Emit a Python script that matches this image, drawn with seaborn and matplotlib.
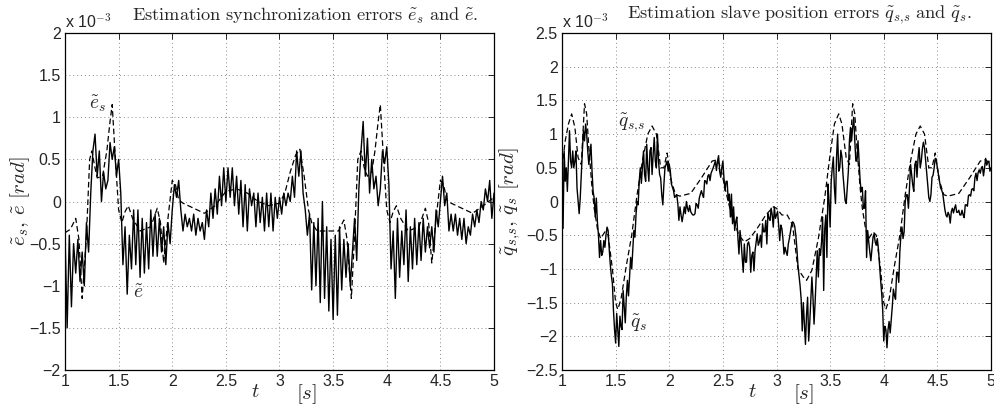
"""Two MATLAB-style estimation error plots (synchronization and slave position)."""

import matplotlib
matplotlib.use('Agg')
import matplotlib.pyplot as plt
import numpy as np
import seaborn as sns

# --- left panel: synchronization errors, units of 1e-3 rad ---
# solid trace e~, sampled every 0.02 s from t=1 to t=5 (5 values per row = 0.1 s)
E_VALS = [
    -0.37, -1.5, -0.4, -1.25, -0.5,
    -0.85, -0.45, -0.95, -0.6, -1.0,
    -0.25, -0.6, 0.1, 0.6, 0.8,
    0.3, 0.6, 0.0, 0.35, 0.15,
    0.25, 0.7, 0.5, 0.65, 0.3,
    0.5, 0.1, -0.75, -0.3, -1.1,
    -0.4, -0.8, -0.1, -0.75, -0.1,
    -0.9, -0.2, -0.85, -0.25, -0.8,
    -0.1, -0.65, -0.15, -0.65, -0.2,
    -0.6, -0.3, -0.75, -0.25, -0.5,
    -0.1, 0.2, 0.05, 0.25, -0.1,
    -0.35, -0.15, -0.3, -0.2, -0.35,
    -0.15, -0.4, -0.2, -0.35, -0.25,
    -0.45, -0.1, -0.3, 0.1, -0.2,
    0.15, -0.15, 0.3, -0.05, 0.4,
    0.0, 0.4, 0.05, 0.4, -0.05,
    0.3, -0.15, 0.25, -0.3, 0.2,
    -0.35, 0.15, -0.05, 0.1, -0.3,
    0.1, -0.25, 0.05, -0.35, 0.1,
    -0.3, 0.1, -0.35, 0.05, -0.2,
    0.05, -0.15, 0.1, -0.05, 0.1,
    0.0, 0.3, 0.05, 0.6, 0.3,
    0.6, 0.1, -0.1, -0.4, -0.15,
    -1.05, -0.25, -1.0, -0.2, -1.2,
    0.0, -1.15, -0.3, -1.3, -0.45,
    -1.4, -0.4, -1.35, -0.3, -1.05,
    -0.45, -0.9, -0.5, -1.0, -0.6,
    -0.2, -0.7, 0.15, 0.6, 0.95,
    0.3, 0.75, 0.1, 0.5, 0.15,
    0.3, -0.05, 0.15, 0.6, 0.45,
    0.65, 0.2, -0.8, -0.35, -1.15,
    -0.2, -0.9, -0.35, -0.75, -0.1,
    -0.95, -0.3, -0.8, -0.2, -0.75,
    -0.25, -0.7, -0.2, -0.6, -0.3,
    -0.55, -0.3, -0.6, -0.1, -0.3,
    0.0, 0.3, -0.05, 0.1, -0.35,
    -0.15, -0.35, -0.15, -0.4, -0.2,
    -0.45, -0.2, -0.5, -0.3, -0.4,
    -0.15, -0.3, -0.1, -0.25, 0.0,
    -0.1, 0.15, 0.0, 0.25, -0.2,
    0.1,
]

# dashed trace e~_s (smooth), read at its turning points
ES_T = [
    1.00, 1.05, 1.10, 1.13, 1.16, 1.20, 1.23, 1.25, 1.28, 1.30,
    1.35, 1.39, 1.42, 1.44, 1.47, 1.50, 1.53, 1.56, 1.59, 1.63,
    1.70, 1.80, 1.86, 1.89, 1.92, 1.96, 2.00, 2.03, 2.06, 2.10,
    2.20, 2.30, 2.40, 2.50, 2.60, 2.70, 2.80, 2.90, 3.00, 3.05,
    3.10, 3.15, 3.19, 3.23, 3.27, 3.30, 3.35, 3.45, 3.55, 3.60,
    3.63, 3.67, 3.70, 3.73, 3.76, 3.79, 3.82, 3.86, 3.89, 3.92,
    3.94, 3.97, 4.00, 4.03, 4.06, 4.09, 4.13, 4.20, 4.30, 4.36,
    4.39, 4.42, 4.46, 4.50, 4.53, 4.56, 4.60, 4.70, 4.80, 4.90,
    5.00,
]
ES_V = [
    -0.37, -0.33, -0.2, -0.45, -1.15, -0.4, 0.5, 0.6, 0.4, 0.28,
    0.3, 0.6, 0.95, 1.15, 0.5, -0.1, -0.25, -0.12, -0.05, -0.2,
    -0.35, -0.3, -0.08, -0.25, -0.73, -0.2, 0.25, 0.2, 0.02, -0.02,
    -0.08, -0.14, -0.05, 0.12, 0.15, 0.1, 0.0, -0.05, -0.02, 0.1,
    0.35, 0.55, 0.62, 0.3, -0.1, -0.25, -0.35, -0.35, -0.35, -0.22,
    -0.45, -1.15, -0.4, 0.5, 0.6, 0.4, 0.3, 0.35, 0.6, 0.95,
    1.15, 0.5, -0.1, -0.25, -0.12, -0.05, -0.2, -0.35, -0.3, -0.08,
    -0.25, -0.73, -0.2, 0.25, 0.2, 0.02, -0.02, -0.08, -0.14, -0.05,
    0.05,
]

# --- right panel: slave position errors, units of 1e-3 rad ---
# solid trace q~_s, sampled every 0.01 s from t=1 to t=5
QS_VALS = [
    0.0, -0.4, 0.75, 0.3, 0.5, 0.15, 0.6, 1.05, 0.6, 0.5,
    0.75, 0.5, 0.6, 0.75, 0.2, 0.0, -0.18, 0.05, 0.4, 0.75,
    1.05, 0.9, 1.15, 1.0, 0.75, 0.55, 0.7, 0.85, 0.45, 0.15,
    0.05, -0.23, 0.05, -0.3, -0.5, -0.83, -0.58, -0.8, -0.75, -0.58,
    -0.68, -0.5, -0.38, -0.43, -0.7, -0.93, -1.1, -1.22, -1.62, -1.9,
    -2.1, -1.66, -1.9, -2.15, -1.7, -1.85, -1.9, -1.32, -1.55, -1.8,
    -1.4, -1.17, -1.4, -1.1, -0.83, -1.0, -0.7, -0.43, -0.53, -0.2,
    0.0, -0.05, 0.3, 0.5, 0.27, 0.5, 0.75, 0.4, 0.3, 0.85,
    0.5, 0.3, 0.75, 0.8, 0.4, 0.7, 0.95, 0.6, 0.5, 1.0,
    0.6, 0.4, 0.35, 0.1, -0.05, 0.25, 0.5, 0.55, 0.6, 0.45,
    0.55, 0.45, 0.26, 0.21, 0.16, 0.06, 0.08, 0.1, -0.03, -0.28,
    -0.08, -0.2, -0.3, -0.2, -0.08, -0.18, 0.0, -0.1, -0.15, -0.06,
    -0.15, -0.18, -0.2, -0.2, -0.18, -0.03, -0.05, -0.1, 0.05, 0.11,
    0.16, 0.1, 0.06, 0.31, 0.3, 0.26, 0.38, 0.4, 0.31, 0.42,
    0.46, 0.5, 0.55, 0.6, 0.46, 0.6, 0.68, 0.45, 0.36, 0.5,
    0.6, 0.35, 0.16, 0.3, 0.3, 0.01, 0.11, -0.23, 0.11, -0.33,
    -0.08, -0.43, -0.3, -0.23, -0.53, -0.78, -0.43, -0.6, -0.83, -1.05,
    -0.63, -0.9, -0.9, -0.63, -0.6, -0.68, -1.05, -0.8, -0.75, -1.03,
    -0.73, -0.6, -0.48, -0.65, -0.6, -0.5, -0.68, -0.33, -0.45, -0.45,
    -0.28, -0.63, -0.18, -0.25, -0.28, -0.1, -0.2, -0.38, -0.08, -0.25,
    -0.2, -0.15, -0.35, -0.58, -0.35, -0.4, -0.55, -0.78, -0.68, -0.75,
    -0.8, -0.63, -0.55, -0.45, -0.35, -0.3, -0.32, -0.37, -0.5, -0.7,
    -0.95, -1.1, -1.25, -1.45, -1.92, -1.5, -1.8, -2.12, -1.68, -1.42,
    -2.07, -1.8, -1.45, -1.12, -1.42, -1.82, -1.5, -1.1, -0.73, -1.12,
    -0.7, -0.8, -0.6, -0.23, -1.32, -0.4, -0.2, -0.83, 0.26, 0.0,
    -0.38, 0.3, 0.5, 0.66, 0.2, -0.03, 0.66, 1.0, 0.45, 0.5,
    0.76, 0.66, 0.4, 0.2, 0.01, -0.03, 0.2, 0.45, 0.9, 1.1,
    0.9, 1.1, 1.25, 0.9, 0.6, 0.6, 0.9, 0.6, 0.3, 0.15,
    0.21, -0.1, -0.1, 0.16, -0.83, -0.43, -0.6, -0.75, -0.88, -0.7,
    -0.53, -0.48, -0.6, -0.65, -0.55, -0.7, -0.93, -1.15, -1.35, -1.6,
    -2.07, -1.85, -1.9, -2.17, -1.9, -1.78, -1.95, -1.75, -1.55, -1.3,
    -1.4, -1.45, -1.05, -1.05, -1.2, -0.75, -0.5, -0.38, -0.55, -0.45,
    0.0, 0.1, 0.1, -0.1, 0.2, 0.55, 0.4, 0.25, 0.15, 0.55,
    0.6, 0.36, 0.65, 0.8, 0.5, 0.6, 0.78, 0.88, 0.8, 0.62,
    0.45, 0.25, 0.06, 0.0, 0.1, 0.36, 0.39, 0.5, 0.64, 0.6,
    0.5, 0.4, 0.3, 0.2, 0.17, 0.12, 0.0, -0.12, -0.2, -0.23,
    -0.16, -0.2, -0.32, -0.15, -0.1, -0.17, -0.1, -0.05, -0.16, -0.16,
    -0.13, -0.2, -0.2, -0.13, -0.2, -0.24, -0.05, -0.05, -0.07, 0.09,
    0.1, 0.08, 0.18, 0.19, 0.16, 0.35, 0.42, 0.31, 0.43, 0.47,
    0.42, 0.5, 0.52, 0.38, 0.5, 0.64, 0.54, 0.58, 0.6, 0.45,
    0.5,
]

# dashed trace q~_{s,s}
QSS_T = [
    1.00, 1.03, 1.06, 1.09, 1.12, 1.15, 1.18, 1.21, 1.23, 1.25,
    1.28, 1.30, 1.33, 1.36, 1.40, 1.43, 1.47, 1.50, 1.52, 1.55,
    1.60, 1.65, 1.70, 1.75, 1.80, 1.84, 1.88, 1.92, 1.95, 1.98,
    2.02, 2.06, 2.10, 2.20, 2.30, 2.40, 2.45, 2.48, 2.52, 2.58,
    2.65, 2.70, 2.75, 2.82, 2.90, 2.97, 3.00, 3.05, 3.10, 3.15,
    3.20, 3.25, 3.28, 3.33, 3.39, 3.45, 3.50, 3.54, 3.58, 3.61,
    3.65, 3.68, 3.71, 3.73, 3.75, 3.78, 3.80, 3.83, 3.86, 3.90,
    3.93, 3.97, 4.00, 4.02, 4.05, 4.10, 4.15, 4.20, 4.25, 4.30,
    4.34, 4.38, 4.42, 4.45, 4.48, 4.52, 4.56, 4.60, 4.70, 4.80,
    4.90, 4.95, 5.00,
]
QSS_V = [
    0.5, 0.9, 1.15, 1.3, 1.1, 0.65, 0.55, 1.45, 1.3, 0.8,
    0.2, -0.1, -0.4, -0.55, -0.45, -0.5, -1.0, -1.5, -1.6, -1.45,
    -0.95, -0.5, 0.1, 0.6, 1.0, 1.12, 1.0, 0.5, 0.5, 0.72,
    0.3, 0.1, 0.08, 0.12, 0.35, 0.6, 0.62, 0.5, 0.2, -0.2,
    -0.5, -0.6, -0.55, -0.4, -0.2, -0.08, -0.1, -0.2, -0.2, -0.35,
    -1.0, -1.12, -1.17, -1.02, -0.55, 0.06, 0.7, 1.15, 1.3, 1.15,
    0.65, 0.55, 1.45, 1.3, 0.8, 0.2, -0.1, -0.4, -0.55, -0.45,
    -0.5, -1.0, -1.5, -1.6, -1.45, -0.95, -0.5, 0.1, 0.6, 1.0,
    1.12, 1.0, 0.5, 0.5, 0.72, 0.3, 0.1, 0.08, 0.12, 0.35,
    0.6, 0.62, 0.55,
]

TITLES = [
    r'$\mathrm{Estimation\ synchronization\ errors\ }\tilde{e}_s\mathrm{\ and\ }\tilde{e}.$',
    r'$\mathrm{Estimation\ slave\ position\ errors\ }\tilde{q}_{s{,}s}\mathrm{\ and\ }\tilde{q}_s.$',
]
YLABELS = [r'$\tilde{e}_s,\, \tilde{e}\ [rad]$', r'$\tilde{q}_{s{,}s},\, \tilde{q}_s\ [rad]$']


def style_axes(ax, ylim, yticks):
    ax.set_xlim(1, 5)
    ax.set_ylim(*ylim)
    ax.set_xticks([1, 1.5, 2, 2.5, 3, 3.5, 4, 4.5, 5])
    ax.set_xticklabels(['1', '1.5', '2', '2.5', '3', '3.5', '4', '4.5', '5'])
    ax.set_yticks(yticks)
    ax.set_yticklabels([f'{v:g}'.replace('-', '\u2212') for v in yticks])
    ax.grid(True, linestyle=(0, (1, 3)), color='#8a8a8a', linewidth=0.7)
    ax.tick_params(direction='in', length=4, width=0.7, top=True, right=True,
                   labelsize=11.5, pad=3)
    for sp in ax.spines.values():
        sp.set_visible(True)
        sp.set_color('black')
        sp.set_linewidth(0.9)
    ax.set_xlabel('')
    ax.set_ylabel('')
    ax.text(0.0, 1.008, r'x 10$^{-3}$', transform=ax.transAxes,
            ha='left', va='bottom', fontsize=11.5)


sns.set_style('white')
plt.rcParams['font.family'] = ['Liberation Sans', 'DejaVu Sans']
plt.rcParams['mathtext.fontset'] = 'cm'

fig = plt.figure(figsize=(9.95, 4.07), dpi=100)
ax1 = fig.add_axes([65 / 995, 37 / 407, 429 / 995, 337 / 407])
ax2 = fig.add_axes([562 / 995, 37 / 407, 429 / 995, 337 / 407])

dash = (0, (4.5, 2.5))

t_grid = np.linspace(1, 5, len(E_VALS))
sns.lineplot(x=t_grid, y=E_VALS, ax=ax1, color='black', linewidth=1.0,
             estimator=None, sort=False)
sns.lineplot(x=ES_T, y=ES_V, ax=ax1, color='black', linewidth=0.9,
             estimator=None, sort=False, linestyle=dash)

t_grid2 = np.linspace(1, 5, len(QS_VALS))
sns.lineplot(x=t_grid2, y=QS_VALS, ax=ax2, color='black', linewidth=1.0,
             estimator=None, sort=False)
sns.lineplot(x=QSS_T, y=QSS_V, ax=ax2, color='black', linewidth=0.9,
             estimator=None, sort=False, linestyle=dash)

style_axes(ax1, (-2, 2), [-2, -1.5, -1, -0.5, 0, 0.5, 1, 1.5, 2])
style_axes(ax2, (-2.5, 2.5), [-2.5, -2, -1.5, -1, -0.5, 0, 0.5, 1, 1.5, 2, 2.5])

for ax, title, ylab, tx, lx in zip((ax1, ax2), TITLES, YLABELS, (0.56, 0.553), (-0.078, -0.092)):
    ax.text(tx, 1.02, title, transform=ax.transAxes, ha='center', va='bottom',
            fontsize=13.2)
    ax.set_ylabel(ylab, fontsize=15)
    ax.yaxis.set_label_coords(lx, 0.5)
    ax.text(0.443, -0.035, r'$t$', transform=ax.transAxes, ha='center', va='top',
            fontsize=15)
    ax.text(0.563, -0.035, r'$[s]$', transform=ax.transAxes, ha='center', va='top',
            fontsize=15)

# curve labels
ax1.text(1.31, 1.16, r'$\tilde{e}_s$', ha='center', va='center', fontsize=14)
ax1.text(1.68, -1.09, r'$\tilde{e}$', ha='center', va='center', fontsize=14)
ax2.text(1.65, 1.16, r'$\tilde{q}_{s{,}s}$', ha='center', va='center', fontsize=14)
ax2.text(1.71, -1.8, r'$\tilde{q}_s$', ha='center', va='center', fontsize=14)

fig.savefig('out.png', dpi=100)
